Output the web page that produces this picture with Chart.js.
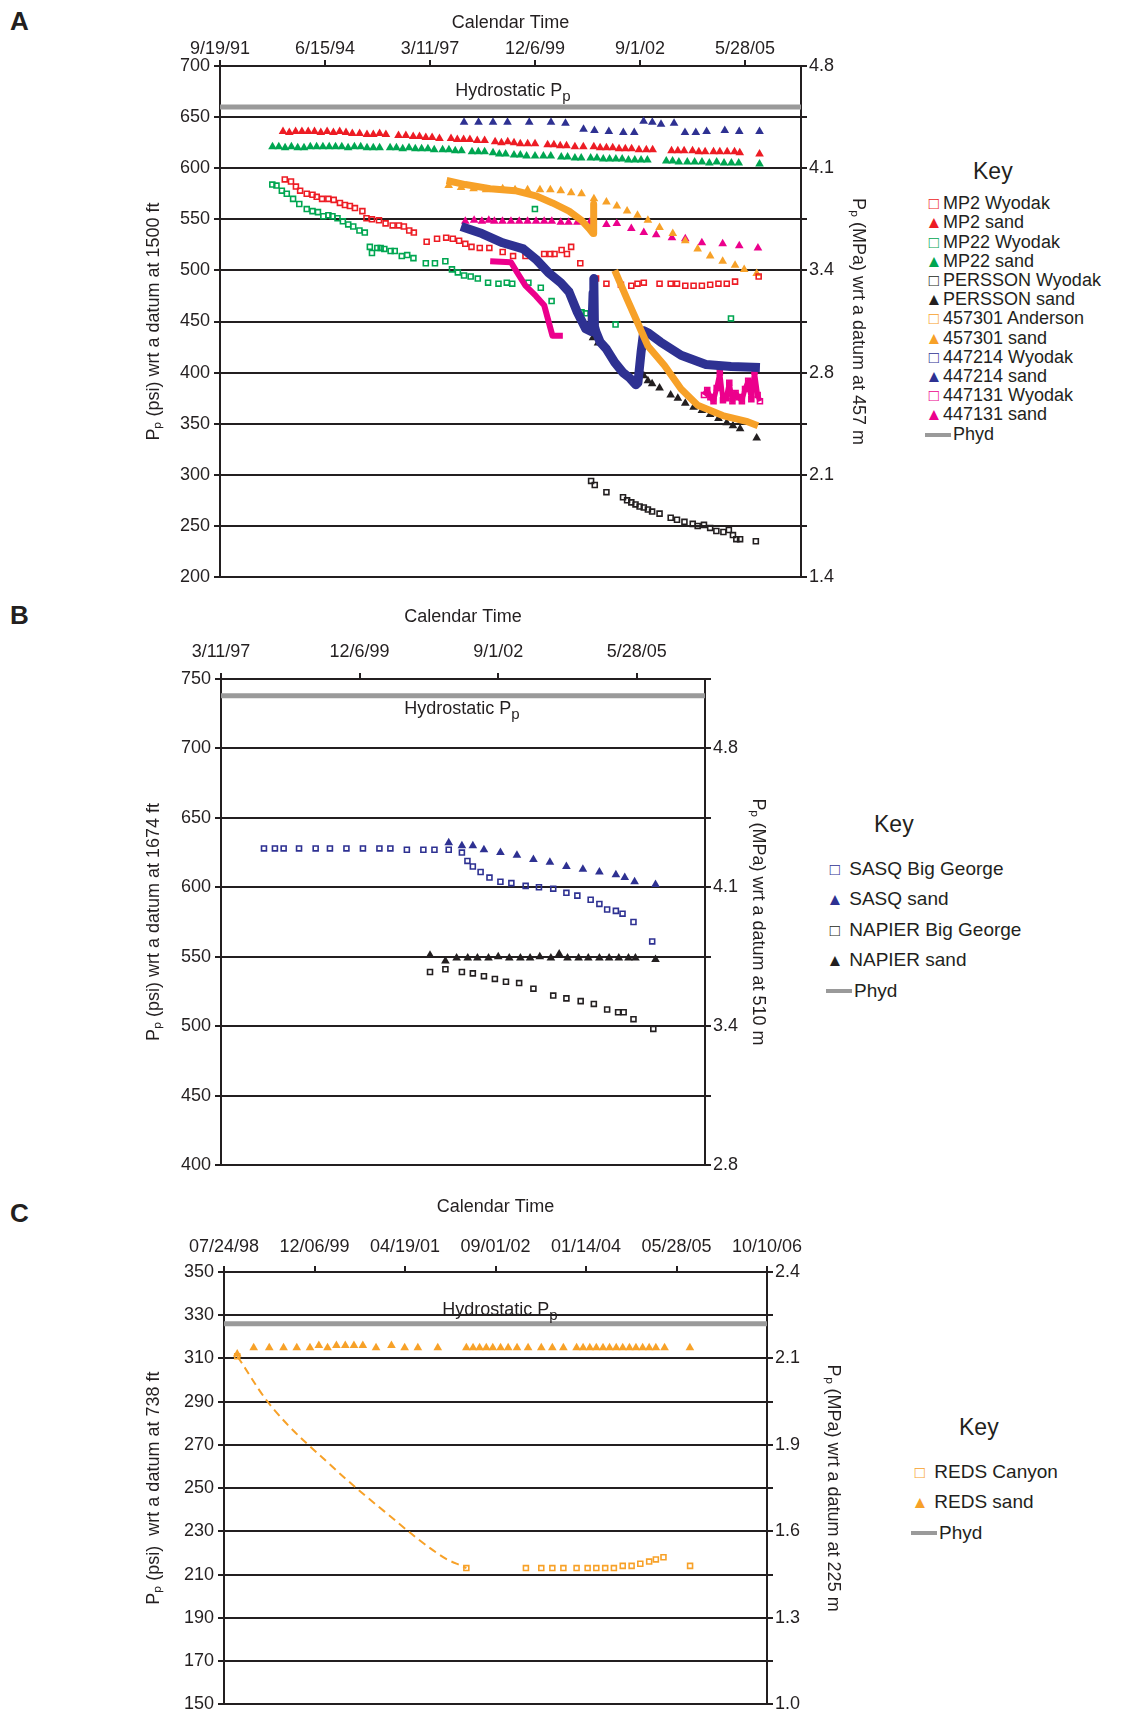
<!DOCTYPE html>
<html>
<head>
<meta charset="utf-8">
<script src="https://cdn.jsdelivr.net/npm/chart.js@4.4.1/dist/chart.umd.min.js"></script>
<style>
  body { margin: 0; background: #fff; width: 1132px; height: 1719px; position: relative; overflow: hidden;
         font-family: "Liberation Sans", Arial, sans-serif; color: #231f20; }
  canvas { position: absolute; }
  .lbl { position: absolute; font-weight: bold; font-size: 26px; }
  .note { position: absolute; font-size: 18px; transform: translateX(-50%); white-space: nowrap; }
  .key { position: absolute; font-size: 18px; line-height: 18px; }
  .key .t { font-size: 23px; margin-left: 48px; margin-bottom: 14px; }
  .key div.r { white-space: nowrap; }
  .key span.m { display: inline-block; width: 18px; text-align: center; font-size: 17px; }
  .ph { display: inline-block; width: 26px; height: 4px; background: #9a9a9a; vertical-align: middle; margin-right: 2px; }
</style>
</head>
<body>
<div class="lbl" style="left:10px;top:6px">A</div>
<div class="lbl" style="left:10px;top:600px">B</div>
<div class="lbl" style="left:10px;top:1198px">C</div>

<canvas id="chartA" width="726" height="600" style="left:143px;top:0px"></canvas>
<canvas id="chartB" width="626" height="590" style="left:143px;top:600px"></canvas>
<canvas id="chartC" width="701" height="529" style="left:143px;top:1190px"></canvas>

<div class="note" style="left:513px;top:80px">Hydrostatic P<sub>p</sub></div>
<div class="note" style="left:462px;top:698px">Hydrostatic P<sub>p</sub></div>
<div class="note" style="left:500px;top:1299px">Hydrostatic P<sub>p</sub></div>

<div class="key" id="keyA" style="left:925px;top:162px;line-height:18.2px"></div>
<div class="key" id="keyB" style="left:826px;top:810px;font-size:19px;line-height:29.5px"></div>
<div class="key" id="keyC" style="left:911px;top:1413px;font-size:19px;line-height:29.5px"></div>

<script>
// ---- Panel A (x = days after 9/19/91, y = psi) ----
const ticksA = ['9/19/91', '6/15/94', '3/11/97', '12/6/99', '9/1/02', '5/28/05'];
const mpaA = { 200: '1.4', 300: '2.1', 400: '2.8', 500: '3.4', 600: '4.1', 700: '4.8' };
const hydroA = 660;

const mp2Wyodak = [[617,589],[676,587],[723,582],[763,578],[826,575],[881,574],[921,572],[972,570],[1032,570],[1083,569],[1142,566],[1190,564],[1237,563],[1285,561],[1356,558],[1395,551],[1447,550],[1514,549],[1577,546],[1644,544],[1704,544],[1751,543],[1802,539],[1846,537],[1968,528],[2067,531],[2154,532],[2217,531],[2277,529],[2336,526],[2395,523],[2474,522],[2565,522],[2692,518],[2791,514],[2909,514],[3087,516],[3146,516],[3186,516],[3253,520],[3304,516],[3344,523],[3431,507],[3581,492],[3680,487],[3818,486],[3917,485],[3976,487],[4036,488],[4186,487],[4292,487],[4352,487],[4431,485],[4510,485],[4589,485],[4668,486],[4747,487],[4826,487],[4905,489],[5130,494]];
const mp2Sand = [[600,636],[660,635],[720,636],[780,636],[840,636],[900,636],[960,635],[1020,636],[1080,635],[1140,636],[1200,635],[1260,634],[1330,634],[1400,633],[1460,633],[1520,634],[1580,633],[1700,632],[1770,632],[1840,631],[1900,631],[1960,630],[2020,630],[2090,629],[2200,629],[2260,628],[2320,628],[2380,628],[2450,627],[2520,627],[2620,626],[2680,625],[2740,626],[2800,625],[2860,624],[2930,624],[3000,624],[3120,623],[3180,623],[3240,622],[3300,622],[3380,621],[3460,621],[3560,621],[3620,620],[3680,620],[3740,620],[3800,619],[3860,619],[3920,619],[3990,618],[4060,618],[4120,618],[4300,617],[4360,617],[4420,617],[4500,617],[4560,616],[4620,616],[4700,616],[4760,616],[4830,616],[4900,616],[4950,615],[5138,614]];
const mp22Wyodak = [[498,584],[538,583],[589,578],[636,575],[696,570],[755,565],[826,560],[881,558],[933,557],[984,553],[1032,554],[1071,553],[1119,551],[1170,548],[1221,545],[1269,543],[1328,539],[1379,537],[1427,523],[1447,517],[1498,522],[1530,522],[1565,521],[1625,519],[1664,519],[1731,514],[1783,515],[1842,512],[1960,507],[2047,507],[2146,509],[2209,501],[2265,498],[2324,495],[2387,494],[2455,492],[2553,488],[2652,487],[2731,488],[2783,487],[2937,488],[2999,560],[3055,483],[3158,470],[3443,459],[3482,458],[3767,447],[4866,453]];
const mp22Sand = [[500,621],[560,621],[620,620],[680,621],[740,620],[800,620],[860,621],[920,621],[980,621],[1040,621],[1100,621],[1160,621],[1220,620],[1280,621],[1340,621],[1400,620],[1460,620],[1520,620],[1620,620],[1680,620],[1740,619],[1800,620],[1860,619],[1920,619],[1980,619],[2040,618],[2120,618],[2180,618],[2240,617],[2300,617],[2400,616],[2460,616],[2520,616],[2600,615],[2660,614],[2720,614],[2800,613],[2860,613],[2920,612],[3000,612],[3080,612],[3150,612],[3250,611],[3310,611],[3380,610],[3440,610],[3530,610],[3590,610],[3650,609],[3710,609],[3770,609],[3830,609],[3890,608],[3950,608],[4010,608],[4070,608],[4250,607],[4310,607],[4370,606],[4450,606],[4520,606],[4590,606],[4660,605],[4730,606],[4800,605],[4870,605],[4940,605],[5138,604]];
const perssonWyodak = [[3534,294],[3569,290],[3680,283],[3838,278],[3877,275],[3917,273],[3957,271],[3996,269],[4036,268],[4075,266],[4115,264],[4186,262],[4292,258],[4352,256],[4423,254],[4502,252],[4549,250],[4609,251],[4668,248],[4727,245],[4794,244],[4846,246],[4885,241],[4917,237],[4953,237],[5103,235]];
const perssonSand = [[3552,434],[3600,429],[4036,397],[4075,392],[4115,389],[4186,385],[4292,378],[4360,375],[4431,370],[4510,366],[4589,363],[4668,359],[4747,355],[4826,351],[4885,348],[4953,345],[5111,336]];
const a457301Anderson = [[2158,588],[2336,584],[2573,580],[2810,578],[3008,573],[3166,566],[3324,558],[3443,549],[3522,540],[3553,536],[3556,565],[3561,540],[null,null],[3759,500],[3877,472],[3976,449],[4075,426],[4233,407],[4391,384],[4549,368],[4787,358],[5024,352],[5123,348]];
const a457301Sand = [[2178,583],[2296,581],[2415,580],[2534,579],[2692,580],[2810,579],[2929,579],[3047,579],[3146,579],[3245,578],[3344,576],[3443,575],[3561,570],[3680,567],[3779,563],[3877,558],[3976,554],[4075,549],[4186,542],[4312,536],[4431,529],[4549,521],[4668,514],[4787,509],[4905,505],[4992,501],[5111,497]];
const a447214Wyodak = [[2296,543],[2494,536],[2692,527],[2889,521],[3008,511],[3126,498],[3245,488],[3324,479],[3403,459],[3482,443],[3540,440],[3553,478],[3560,492],[3566,445],[3580,440],[3620,430],[3680,423],[3759,410],[3838,400],[3900,395],[3960,388],[3980,390],[4010,420],[4036,441],[4075,439],[4194,430],[4391,417],[4628,408],[4866,406],[5142,405]];
const a447214Sand = [[2324,645],[2462,645],[2600,645],[2738,645],[2945,645],[3152,645],[3290,644],[3462,638],[3566,637],[3703,636],[3841,635],[3945,635],[4034,646],[4117,645],[4200,643],[4324,644],[4428,635],[4531,635],[4634,636],[4807,637],[4945,636],[5138,636]];
const a447131Wyodak = [[2573,509],[2771,508],[2830,498],[2909,485],[3008,475],[3087,466],[3166,436],[3265,436]];
const a447131Cluster = [[4609,378],[4640,383],[4670,376],[4700,372],[4730,385],[4760,400],[4790,373],[4820,375],[4850,390],[4880,372],[4910,380],[4940,376],[4970,372],[5000,384],[5030,392],[5060,374],[5090,401],[5120,378],[5142,372]];
const a447131Sand = [[2336,548],[2420,549],[2494,548],[2560,549],[2613,548],[2690,548],[2771,548],[2850,548],[2929,548],[3010,548],[3087,548],[3160,548],[3245,547],[3320,547],[3403,547],[3522,547],[3680,545],[3779,546],[3917,541],[4036,537],[4154,535],[4304,532],[4431,531],[4589,527],[4787,526],[4945,524],[5123,522]];

// ---- Panel B (x = days after 3/11/97) ----
const ticksB = ['3/11/97', '12/6/99', '9/1/02', '5/28/05'];
const mpaB = { 400: '2.8', 500: '3.4', 600: '4.1', 700: '4.8' };
const hydroB = 738;
const sasqBigGeorge = [[310,628],[389,628],[452,628],[563,628],[683,628],[786,628],[905,628],[1024,628],[1143,628],[1222,628],[1341,627],[1460,627],[1540,627],[1643,627],[1738,625],[1778,619],[1817,615],[1873,611],[1937,607],[2016,604],[2095,603],[2198,601],[2294,600],[2397,599],[2492,596],[2571,594],[2667,591],[2730,588],[2786,584],[2849,583],[2897,581],[2976,575],[3111,561]];
const sasqSand = [[1643,632],[1738,630],[1817,630],[1897,627],[2016,625],[2135,623],[2254,620],[2373,618],[2492,615],[2611,613],[2730,611],[2849,609],[2913,607],[2984,604],[3135,602]];
const napierBigGeorge = [[1508,539],[1619,541],[1738,539],[1817,538],[1897,536],[1976,534],[2056,532],[2151,531],[2254,527],[2397,522],[2492,520],[2595,518],[2690,516],[2786,512],[2865,510],[2905,510],[2976,505],[3119,498]];
const napierSand = [[1508,551],[1619,547],[1700,549],[1780,549],[1850,549],[1930,549],[2000,550],[2080,549],[2160,549],[2230,549],[2300,550],[2380,549],[2440,552],[2500,549],[2580,549],[2650,549],[2730,549],[2800,549],[2870,549],[2940,549],[2990,549],[3135,548]];

// ---- Panel C (x = days after 07/24/98) ----
const ticksC = ['07/24/98', '12/06/99', '04/19/01', '09/01/02', '01/14/04', '05/28/05', '10/10/06'];
const mpaC = { 150: '1.0', 190: '1.3', 230: '1.6', 270: '1.9', 310: '2.1', 350: '2.4' };
const hydroC = 326;
const redsSand = [[73,312],[164,315],[250,315],[329,315],[402,315],[475,315],[524,316],[572,315],[621,316],[670,316],[718,316],[767,316],[840,315],[925,316],[998,315],[1071,315],[1181,315],[1339,315],[1376,315],[1412,315],[1449,315],[1485,315],[1528,315],[1570,315],[1619,315],[1680,315],[1753,315],[1814,315],[1875,315],[1948,315],[1984,315],[2021,315],[2057,315],[2094,315],[2130,315],[2167,315],[2203,315],[2240,315],[2276,315],[2313,315],[2349,315],[2386,315],[2434,315],[2574,315]];
const redsCanyon = [[73,311],[1339,213],[1668,213],[1753,213],[1814,213],[1875,213],[1948,213],[2009,213],[2057,213],[2106,213],[2154,213],[2203,214],[2252,214],[2300,215],[2349,216],[2386,217],[2428,218],[2575,214]];
const redsTrend = [[73,311],[280,286],[584,261],[889,239],[1193,219],[1339,213]];

const RED = '#ed1c24', GREEN = '#00a651', BLACK = '#231f20', ORANGE = '#f7a128',
      BLUE = '#2e3192', PINK = '#ec008c', GRAY = '#9a9a9a';
const FONT = { family: 'Liberation Sans', size: 18 };

function pts(arr) {
  return arr.map(p => p[0] === null ? { x: null, y: null } : { x: p[0], y: p[1] });
}
function squares(label, data, color) {
  return { label, data: pts(data), pointStyle: 'rect', pointRadius: 3.5, borderWidth: 1.6,
           borderColor: color, backgroundColor: 'rgba(255,255,255,0)', showLine: false };
}
function triangles(label, data, color) {
  return { label, data: pts(data), pointStyle: 'triangle', pointRadius: 5, borderWidth: 0,
           borderColor: color, backgroundColor: color, showLine: false };
}
function band(label, data, color, w) {
  return { label, data: pts(data), showLine: true, pointRadius: 0, borderWidth: w,
           borderColor: color, spanGaps: false, borderJoinStyle: 'round' };
}
function hydro(value, xmax) {
  return { label: 'Phyd', data: [{ x: 0, y: value }, { x: xmax, y: value }], showLine: true,
           pointRadius: 0, borderWidth: 5, borderColor: GRAY };
}

function makeChart(id, o) {
  new Chart(document.getElementById(id), {
    type: 'scatter',
    data: { datasets: o.datasets },
    options: {
      responsive: false, animation: false,
      layout: { padding: { bottom: o.padBottom, top: 0, left: 0, right: 0 } },
      plugins: { legend: { display: false }, tooltip: { enabled: false } },
      scales: {
        x: {
          type: 'linear', position: 'top', min: 0, max: o.xmax,
          afterBuildTicks: s => { s.ticks = o.xlabels.map((_, i) => ({ value: i * o.xstep })); },
          afterFit: s => { s.height = o.topH; },
          ticks: { autoSkip: false, font: FONT, color: BLACK, padding: o.tickPad, maxRotation: 0,
                   callback: v => o.xlabels[Math.round(v / o.xstep)] },
          grid: { drawOnChartArea: false, color: BLACK, lineWidth: 2, tickLength: 6 },
          border: { color: BLACK, width: 2 },
          title: { display: true, text: 'Calendar Time', font: FONT, color: BLACK, padding: { top: o.titlePad, bottom: 0 } }
        },
        y: {
          position: 'left', min: o.ymin, max: o.ymax,
          afterFit: s => { s.width = o.leftW; },
          ticks: { stepSize: o.ystep, font: FONT, color: BLACK, padding: 4 },
          grid: { color: BLACK, lineWidth: 2, tickLength: 6 },
          border: { color: BLACK, width: 2 },
          title: { display: true, text: o.ytitle, font: FONT, color: BLACK, padding: 0 }
        },
        y2: {
          position: 'right', min: o.ymin, max: o.ymax,
          afterFit: s => { s.width = o.rightW; },
          ticks: { stepSize: o.ystep, font: FONT, color: BLACK, padding: 2,
                   callback: v => o.mpa[v] || '' },
          grid: { drawOnChartArea: false, color: BLACK, lineWidth: 2, tickLength: 6 },
          border: { color: BLACK, width: 2 },
          title: { display: true, text: o.y2title, font: FONT, color: BLACK, padding: 0 }
        }
      }
    }
  });
}

makeChart('chartA', {
  xmax: 5533, xstep: 1000, xlabels: ticksA, topH: 66, padBottom: 23, tickPad: 0, titlePad: 12,
  ymin: 200, ymax: 700, ystep: 50, leftW: 77, rightW: 68, mpa: mpaA,
  ytitle: 'Pₚ (psi) wrt a datum at 1500 ft', y2title: 'Pₚ (MPa) wrt a datum at 457 m',
  datasets: [
    hydro(hydroA, 5533),
    band('457301 Anderson', a457301Anderson, ORANGE, 7),
    band('447214 Wyodak', a447214Wyodak, BLUE, 9),
    band('447131 Wyodak', a447131Wyodak, PINK, 6),
    squares('447131 Wyodak', a447131Cluster, PINK),
    band('447131 Wyodak', a447131Cluster, PINK, 5),
    squares('MP2 Wyodak', mp2Wyodak, RED),
    triangles('MP2 sand', mp2Sand, RED),
    squares('MP22 Wyodak', mp22Wyodak, GREEN),
    triangles('MP22 sand', mp22Sand, GREEN),
    squares('PERSSON Wyodak', perssonWyodak, BLACK),
    triangles('PERSSON sand', perssonSand, BLACK),
    triangles('457301 sand', a457301Sand, ORANGE),
    triangles('447214 sand', a447214Sand, BLUE),
    triangles('447131 sand', a447131Sand, PINK)
  ]
});

makeChart('chartB', {
  xmax: 3492, xstep: 1000, xlabels: ticksB, topH: 79, padBottom: 25, tickPad: 10, titlePad: 6,
  ymin: 400, ymax: 750, ystep: 50, leftW: 78, rightW: 64, mpa: mpaB,
  ytitle: 'Pₚ (psi) wrt a datum at 1674 ft', y2title: 'Pₚ (MPa) wrt a datum at 510 m',
  datasets: [
    hydro(hydroB, 3492),
    squares('SASQ Big George', sasqBigGeorge, BLUE),
    triangles('SASQ sand', sasqSand, BLUE),
    squares('NAPIER Big George', napierBigGeorge, BLACK),
    triangles('NAPIER sand', napierSand, BLACK)
  ]
});

makeChart('chartC', {
  xmax: 3000, xstep: 500, xlabels: ticksC, topH: 82, padBottom: 4, tickPad: 8, titlePad: 6,
  ymin: 150, ymax: 350, ystep: 20, leftW: 81, rightW: 77, mpa: mpaC,
  ytitle: 'Pₚ (psi)  wrt a datum at 738 ft', y2title: 'Pₚ (MPa) wrt a datum at 225 m',
  datasets: [
    hydro(hydroC, 3000),
    Object.assign(band('trend', redsTrend, ORANGE, 2), { borderDash: [8, 5], tension: 0.4 }),
    squares('REDS Canyon', redsCanyon, ORANGE),
    triangles('REDS sand', redsSand, ORANGE)
  ]
});

// keys
const keyA = [['sq', RED, 'MP2 Wyodak'], ['tr', RED, 'MP2 sand'], ['sq', GREEN, 'MP22 Wyodak'], ['tr', GREEN, 'MP22 sand'],
  ['sq', BLACK, 'PERSSON Wyodak'], ['tr', BLACK, 'PERSSON sand'], ['sq', ORANGE, '457301 Anderson'], ['tr', ORANGE, '457301 sand'],
  ['sq', BLUE, '447214 Wyodak'], ['tr', BLUE, '447214 sand'], ['sq', PINK, '447131 Wyodak'], ['tr', PINK, '447131 sand'], ['ph', GRAY, 'Phyd']];
const keyB = [['sq', BLUE, 'SASQ Big George'], ['tr', BLUE, 'SASQ sand'], ['sq', BLACK, 'NAPIER Big George'], ['tr', BLACK, 'NAPIER sand'], ['ph', GRAY, 'Phyd']];
const keyC = [['sq', ORANGE, 'REDS Canyon'], ['tr', ORANGE, 'REDS sand'], ['ph', GRAY, 'Phyd']];

function fillKey(id, items, gap) {
  const el = document.getElementById(id);
  let html = '<div class="t">Key</div>';
  items.forEach(([k, c, t]) => {
    let m;
    if (k === 'ph') m = '<span class="ph"></span>';
    else m = '<span class="m" style="color:' + c + '">' + (k === 'sq' ? '□' : '▲') + '</span>' + '&nbsp;'.repeat(gap);
    html += '<div class="r">' + m + t + '</div>';
  });
  el.innerHTML = html;
}
fillKey('keyA', keyA, 0);
fillKey('keyB', keyB, 1);
fillKey('keyC', keyC, 1);
</script>
</body>
</html>
